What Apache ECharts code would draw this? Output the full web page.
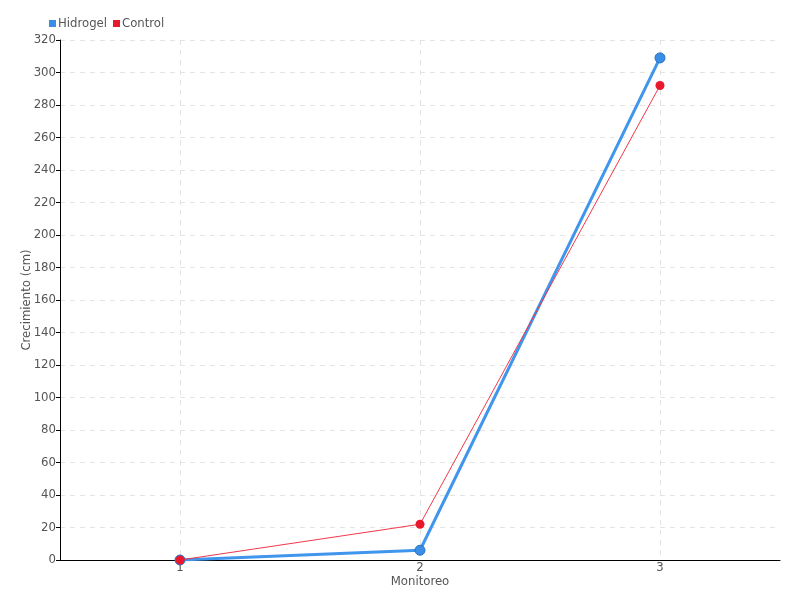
<!DOCTYPE html>
<html><head><meta charset="utf-8">
<script src="https://cdn.jsdelivr.net/npm/echarts@6/dist/echarts.min.js"></script>
<style>html,body{margin:0;padding:0;background:#fff}#c{width:800px;height:600px}</style>
</head><body><div id="c"></div>
<script>
const categories = ['1', '2', '3'];
const hidrogel = [0, 6, 309];
const control = [0, 22, 292];
const FONT = '"DejaVu Sans Condensed", sans-serif';
const chart = echarts.init(document.getElementById('c'));
chart.setOption({
  animation: false,
  textStyle: { fontFamily: FONT },
  legend: {
    left: 44, top: 12, itemWidth: 7, itemHeight: 7, itemGap: 6,
    icon: 'rect',
    itemStyle: { borderWidth: 0 },
    textStyle: { fontSize: 13, color: '#555', fontFamily: FONT, padding: [0, 0, 0, -3] },
    data: ['Hidrogel', 'Control']
  },
  grid: { left: 60, right: 20, top: 40, bottom: 40 },
  xAxis: {
    type: 'category', data: categories, boundaryGap: true,
    name: 'Monitoreo', nameLocation: 'middle', nameGap: 15, nameMoveOverlap: false,
    nameTextStyle: { color: '#555', fontSize: 13, fontFamily: FONT },
    axisLine: { lineStyle: { color: '#000' } },
    axisTick: { alignWithLabel: true, length: 5, lineStyle: { color: '#333' } },
    axisLabel: { color: '#555', fontSize: 13, margin: 1, fontFamily: FONT },
    splitLine: { show: true, alignWithLabel: true, lineStyle: { color: '#e3e3e3', type: [5, 5] } }
  },
  yAxis: {
    type: 'value', min: 0, max: 320, interval: 20,
    name: 'Crecimiento (cm)', nameLocation: 'middle', nameGap: 27, nameMoveOverlap: false,
    nameTextStyle: { color: '#555', fontSize: 13, fontFamily: FONT },
    axisLine: { show: true, lineStyle: { color: '#000' } },
    axisTick: { show: true, length: 4, lineStyle: { color: '#000' } },
    axisLabel: { color: '#555', fontSize: 13, margin: 4, fontFamily: FONT },
    splitLine: { show: true, lineStyle: { color: '#e3e3e3', type: [5, 5] } }
  },
  series: [
    {
      name: 'Hidrogel', type: 'line', data: hidrogel,
      symbol: 'circle', symbolSize: 10,
      itemStyle: { color: '#3a8ee6', borderColor: '#2a6fc0', borderWidth: 1 },
      lineStyle: { color: '#4095ec', width: 3 }, z: 2
    },
    {
      name: 'Control', type: 'line', data: control,
      symbol: 'circle', symbolSize: 9,
      itemStyle: { color: '#e8192c' },
      lineStyle: { color: '#f0384a', width: 1 }, z: 3
    }
  ]
});
</script></body></html>
